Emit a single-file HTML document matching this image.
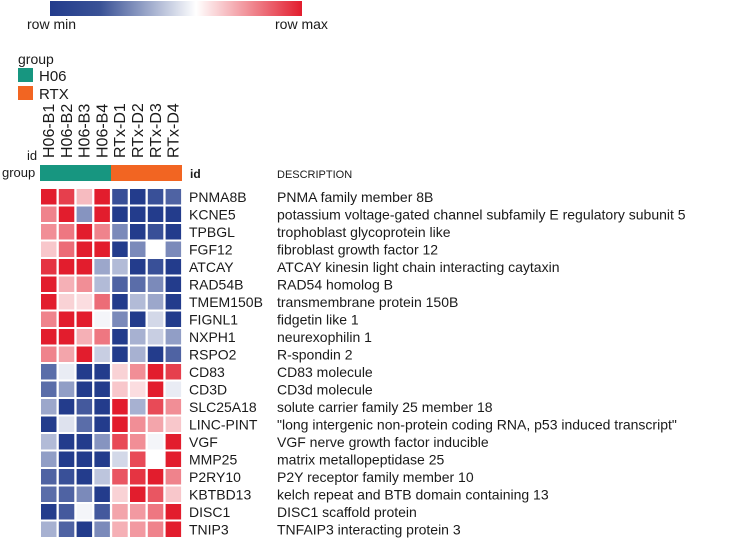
<!DOCTYPE html>
<html><head><meta charset="utf-8"><style>
body{margin:0;background:#fff;font-family:"Liberation Sans",sans-serif;}
svg text{font-family:"Liberation Sans",sans-serif;fill:#1a1a1a;}
</style></head><body>
<svg id="c" width="742" height="542">
<defs><linearGradient id="g" x1="0" x2="1"><stop offset="0" stop-color="#233c8c"/><stop offset="0.2" stop-color="#3a5296"/><stop offset="0.58" stop-color="#ffffff"/><stop offset="1" stop-color="#e21d2d"/></linearGradient></defs>
<rect x="50" y="1" width="252" height="15" fill="url(#g)"/>
<text x="27" y="29" font-size="14">row min</text>
<text x="275" y="29" font-size="14">row max</text>
<text x="18" y="64" font-size="14">group</text>
<rect x="18" y="68" width="15" height="14" fill="#179680"/>
<text x="39" y="81" font-size="15">H06</text>
<rect x="18" y="86" width="15" height="14" fill="#f26522"/>
<text x="39" y="99" font-size="15">RTX</text>
<text x="27" y="160" font-size="13">id</text>
<text x="2" y="177" font-size="13">group</text>
<rect x="40" y="165" width="71" height="16" fill="#179680"/>
<rect x="111" y="165" width="71" height="16" fill="#f26522"/>
<text x="190" y="178" font-size="12" font-weight="bold">id</text>
<text x="277" y="178" font-size="11">DESCRIPTION</text>
<g id="cells"></g>
</svg>
<script>
const samples=["H06-B1","H06-B2","H06-B3","H06-B4","RTx-D1","RTx-D2","RTx-D3","RTx-D4"];
const genes=["PNMA8B","KCNE5","TPBGL","FGF12","ATCAY","RAD54B","TMEM150B","FIGNL1","NXPH1","RSPO2","CD83","CD3D","SLC25A18","LINC-PINT","VGF","MMP25","P2RY10","KBTBD13","DISC1","TNIP3"];
const descriptions=["PNMA family member 8B","potassium voltage-gated channel subfamily E regulatory subunit 5","trophoblast glycoprotein like","fibroblast growth factor 12","ATCAY kinesin light chain interacting caytaxin","RAD54 homolog B","transmembrane protein 150B","fidgetin like 1","neurexophilin 1","R-spondin 2","CD83 molecule","CD3d molecule","solute carrier family 25 member 18","\"long intergenic non-protein coding RNA, p53 induced transcript\"","VGF nerve growth factor inducible","matrix metallopeptidase 25","P2Y receptor family member 10","kelch repeat and BTB domain containing 13","DISC1 scaffold protein","TNFAIP3 interacting protein 3"];
const values=[
[1,0.85,0.3,1,-0.9,-1,-0.9,-0.8],
[0.55,1,-0.55,1,-1,-1,-1,-1],
[0.5,0.6,1,0.55,-0.6,-1,-0.9,-1],
[0.25,0.65,1,1,-1,-0.6,0,-0.6],
[0.9,1,1,-0.45,-0.35,-1,-0.9,-1],
[1,0.35,0.5,-0.35,-0.8,-0.75,-0.6,-1],
[1,0.2,0.15,0.65,-1,-0.35,-0.45,-1],
[0.55,1,1,-0.05,-0.6,-1,-0.2,-1],
[1,1,0.35,0.6,-1,-0.4,-0.25,-0.5],
[0.55,0.4,1,-0.25,-1,-0.4,-1,-0.8],
[-0.75,-0.1,-1,-1,0.2,0.5,1,0.85],
[-0.75,-0.5,-1,-1,0.25,0.15,1,-0.1],
[-0.45,-1,-0.85,-1,1,-0.4,0.8,0.5],
[-1,-0.15,-0.75,-1,1,0.5,0.4,0.25],
[-0.35,-1,-1,-0.55,0.8,0.5,-0.05,1],
[-0.5,-1,-1,-1,-0.2,0.8,0,1],
[-0.8,-0.9,-1,-0.3,0.75,0.9,1,0.55],
[-0.75,-0.8,-0.6,-1,0.2,1,0.75,0.25],
[-1,-0.85,-0.05,-0.85,0.4,0.45,0.6,1],
[-0.4,-0.8,-1,-0.6,0.35,0.45,0.55,1]];
const NS="http://www.w3.org/2000/svg";
const g=document.getElementById('cells');
const svg=document.getElementById('c');
function xPos(j){return 41+j*17.8;}
function yPos(i){return 189+i*17.5;}
function color(v){
 const lo=[35,60,140],hi=[226,29,45],w=[255,255,255];
 const t=Math.abs(v),e=v<0?lo:hi;
 return 'rgb('+w.map((c,k)=>Math.round(c+(e[k]-c)*t)).join(',')+')';
}
samples.forEach((s,j)=>{
 const t=document.createElementNS(NS,'text');
 const x=xPos(j)+13,y=158;
 t.setAttribute('x',x);t.setAttribute('y',y);
 t.setAttribute('font-size','16');
 t.setAttribute('transform','rotate(-90 '+x+' '+y+')');
 t.textContent=s;
 
 
 svg.appendChild(t);
});
values.forEach((row,i)=>{
 row.forEach((v,j)=>{
  const r=document.createElementNS(NS,'rect');
  r.setAttribute('x',xPos(j));r.setAttribute('y',yPos(i));
  r.setAttribute('width',15.5);r.setAttribute('height',15.5);
  r.setAttribute('fill',color(v));
  
  
  g.appendChild(r);
 });
 const t=document.createElementNS(NS,'text');
 t.setAttribute('x',189);t.setAttribute('y',yPos(i)+13);
 t.setAttribute('font-size','14');t.textContent=genes[i];
 
 
 svg.appendChild(t);
 const d=document.createElementNS(NS,'text');
 d.setAttribute('x',277);d.setAttribute('y',yPos(i)+13);
 d.setAttribute('font-size','14');d.textContent=descriptions[i];
 
 
 svg.appendChild(d);
});
</script>
</body></html>
